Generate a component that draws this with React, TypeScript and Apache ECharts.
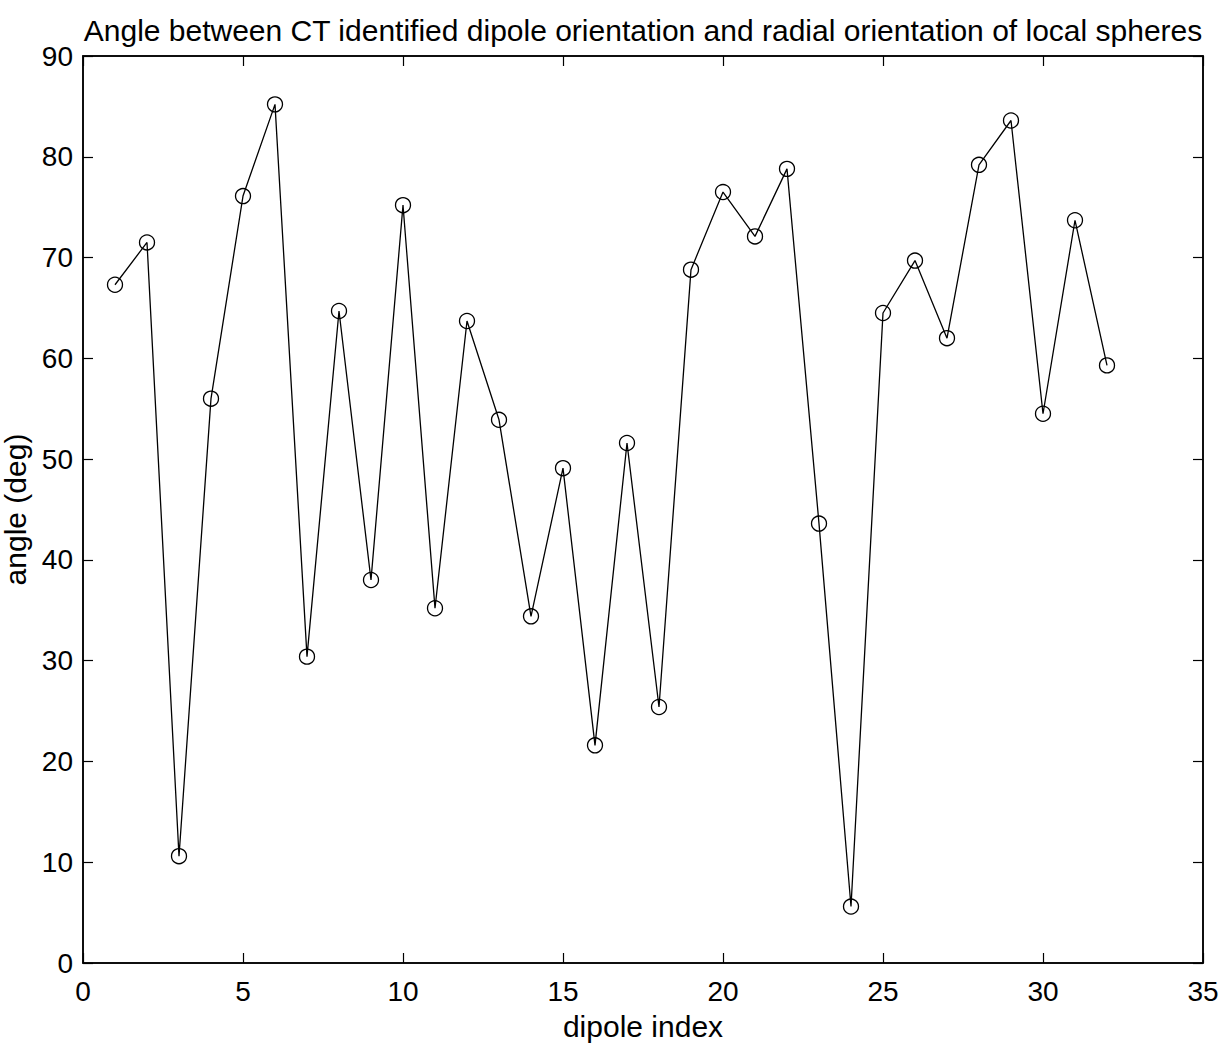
import React, { useEffect, useRef } from "react";
import * as echarts from "echarts";

const titleText =
  "Angle between CT identified dipole orientation and radial orientation of local spheres";
const xName = "dipole index";
const yName = "angle (deg)";
const dipoleIndex = [
  1, 2, 3, 4, 5, 6, 7, 8, 9, 10, 11, 12, 13, 14, 15, 16,
  17, 18, 19, 20, 21, 22, 23, 24, 25, 26, 27, 28, 29, 30, 31, 32,
];
const angleDeg = [
  67.3, 71.5, 10.6, 56.0, 76.1, 85.2, 30.4, 64.7, 38.0, 75.2, 35.2, 63.7, 53.9, 34.4, 49.1, 21.6,
  51.6, 25.4, 68.8, 76.5, 72.1, 78.8, 43.6, 5.6, 64.5, 69.7, 62.0, 79.2, 83.6, 54.5, 73.7, 59.3,
];

const FONT = "Liberation Sans, Arial, Helvetica, sans-serif";

export default function App() {
  const ref = useRef<HTMLDivElement>(null);
  useEffect(() => {
    document.body.style.margin = "0";
    const chart = echarts.init(ref.current!, undefined, { renderer: "svg" });
    const data = dipoleIndex.map((x, i) => [x, angleDeg[i]]);
    const axisCommon = {
      type: "value" as const,
      show: true,
      splitLine: { show: false },
      axisLine: { show: true, onZero: false, lineStyle: { color: "#000", width: 1.5 } },
      axisTick: { show: true, inside: true, length: 10, lineStyle: { color: "#000", width: 1.2 } },
    };
    chart.setOption({
      animation: false,
      backgroundColor: "#fff",
      textStyle: { fontFamily: FONT },
      title: {
        text: titleText,
        left: 638,
        textAlign: "center",
        top: 10,
        textStyle: { fontFamily: FONT, fontSize: 30, fontWeight: "normal", color: "#000" },
      },
      grid: {
        left: 83,
        right: 22,
        top: 56,
        bottom: 83,
        outerBoundsMode: "none",
        containLabel: false,
        show: true,
        borderColor: "#000",
        borderWidth: 1.5,
        backgroundColor: "#fff",
      },
      xAxis: [
        {
          ...axisCommon,
          min: 0,
          max: 35,
          interval: 5,
          position: "bottom",
          name: xName,
          nameLocation: "middle",
          nameGap: 48,
          nameTextStyle: { fontFamily: FONT, fontSize: 30, color: "#000" },
          axisLabel: { fontFamily: FONT, fontSize: 28, color: "#000", margin: 14 },
        },
        {
          ...axisCommon,
          min: 0,
          max: 35,
          interval: 5,
          position: "top",
          axisLabel: { show: false },
        },
      ],
      yAxis: [
        {
          ...axisCommon,
          min: 0,
          max: 90,
          interval: 10,
          position: "left",
          name: yName,
          nameLocation: "middle",
          nameGap: 41,
          nameTextStyle: { fontFamily: FONT, fontSize: 30, color: "#000" },
          axisLabel: { fontFamily: FONT, fontSize: 28, color: "#000", margin: 10 },
        },
        {
          ...axisCommon,
          min: 0,
          max: 90,
          interval: 10,
          position: "right",
          axisLabel: { show: false },
        },
      ],
      series: [
        {
          type: "line",
          xAxisIndex: 1,
          yAxisIndex: 1,
          data,
          silent: true,
          symbol: "none",
          lineStyle: { opacity: 0 },
          emphasis: { disabled: true },
        },
        {
          type: "line",
          xAxisIndex: 0,
          yAxisIndex: 0,
          data,
          symbol: "circle",
          symbolSize: 15,
          itemStyle: { color: "rgba(0,0,0,0)", borderColor: "#000", borderWidth: 1.3 },
          lineStyle: { color: "#000", width: 1.3 },
          emphasis: { disabled: true },
        },
      ],
    });
    return () => chart.dispose();
  }, []);
  return <div ref={ref} style={{ width: 1225, height: 1046 }} />;
}
